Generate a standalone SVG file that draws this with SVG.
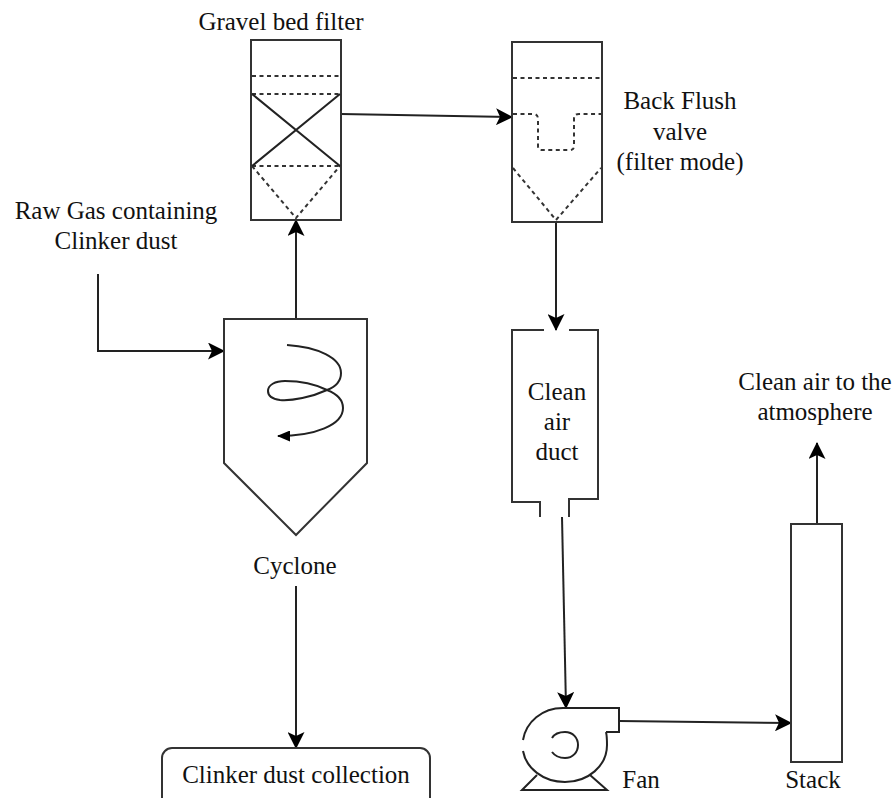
<svg xmlns="http://www.w3.org/2000/svg" width="896" height="798" viewBox="0 0 896 798">
<style>
.s{fill:none;stroke:#333;stroke-width:2}
.t{fill:none;stroke:#222;stroke-width:2}
.d{fill:none;stroke:#333;stroke-width:2;stroke-dasharray:4 3.5}
.c{fill:none;stroke:#222;stroke-width:2;marker-end:url(#a)}
text{font-family:"Liberation Serif","Times New Roman",serif;font-size:25px;fill:#111;text-anchor:middle}
</style>
<defs>
<marker id="a" markerUnits="userSpaceOnUse" markerWidth="17" markerHeight="17" refX="16" refY="8.5" orient="auto" viewBox="0 0 17 17"><path d="M0 0L17 8.5L0 17L4 8.5Z" fill="#000"/></marker>
<marker id="b" markerUnits="userSpaceOnUse" markerWidth="13" markerHeight="11" refX="12" refY="5.5" orient="auto" viewBox="0 0 13 11"><path d="M0 0L13 5.5L0 11Z" fill="#000"/></marker>
</defs>
<rect width="896" height="798" fill="#fff"/>
<g id="connectors">
<path class="c" d="M296 319V220"/>
<path class="c" d="M341 114L512 117"/>
<path class="c" d="M556 222V330"/>
<path class="c" d="M562 517L566 708"/>
<path class="c" d="M619 721L791 723"/>
<path class="c" d="M817 524V443"/>
<path class="c" d="M296 586V748"/>
<path class="c" d="M98 274V351H224"/>
</g>
<g id="gravel-bed-filter">
<rect class="s" x="251" y="40" width="90" height="180"/>
<path class="d" d="M252 76H340M252 94H340M252 166H340M252 166L296 218L340 166"/>
<path class="t" d="M252 94L340 166M340 94L252 166"/>
<text x="281" y="30">Gravel bed filter</text>
</g>
<g id="back-flush-valve">
<rect class="s" x="512" y="42" width="90" height="180"/>
<path class="d" d="M513 78H601M513 114H533Q538 114 538 119V146Q538 150 542 150H570Q574 150 574 146V119Q574 114 579 114H601M513 168L556 220L601 168"/>
<text x="680" y="109">Back Flush</text>
<text x="680" y="140">valve</text>
<text x="680" y="170">(filter mode)</text>
</g>
<g id="raw-gas">
<text x="116" y="219">Raw Gas containing</text>
<text x="116" y="249">Clinker dust</text>
</g>
<g id="cyclone">
<path class="s" d="M224 319H367V463L296 535L224 463Z"/>
<path d="M287 345C318 347 341 358 341 373C341 382 335 387 327 390C312 397 292 401 280 400C272 399 268 396 268 391C268 385 275 381 285 381C300 381 315 384 327 390C337 394 343 400 343 408C343 425 315 436 278 436" fill="none" stroke="#222" stroke-width="2" marker-end="url(#b)"/>
<text x="295" y="574">Cyclone</text>
</g>
<g id="clinker-dust-collection">
<rect class="s" x="162" y="748" width="268" height="70" rx="10"/>
<text x="296" y="783">Clinker dust collection</text>
</g>
<g id="clean-air-duct">
<path class="s" d="M544 330H512V502H540V517M569 517V499H598V330H569"/>
<text x="557" y="400">Clean</text>
<text x="557" y="430">air</text>
<text x="557" y="460">duct</text>
</g>
<g id="fan">
<path class="t" d="M523 740C526 722 542 708 563 708H619V732H606M606 732C607 736 607 741 607 745C607 766 588 782 565 782C543 782 526 768 523 751"/>
<path class="t" d="M552 738C555 733 560 732 565 732C573 732 578 738 578 745C578 752 573 758 565 758C560 758 555 756 552 752"/>
<path class="t" d="M537 775L522 790H607L590 775"/>
<text x="641" y="788">Fan</text>
</g>
<g id="stack">
<rect class="s" x="791" y="524" width="51" height="238"/>
<text x="813" y="788">Stack</text>
</g>
<g id="clean-air-label">
<text x="815" y="390">Clean air to the</text>
<text x="815" y="420">atmosphere</text>
</g>
</svg>
